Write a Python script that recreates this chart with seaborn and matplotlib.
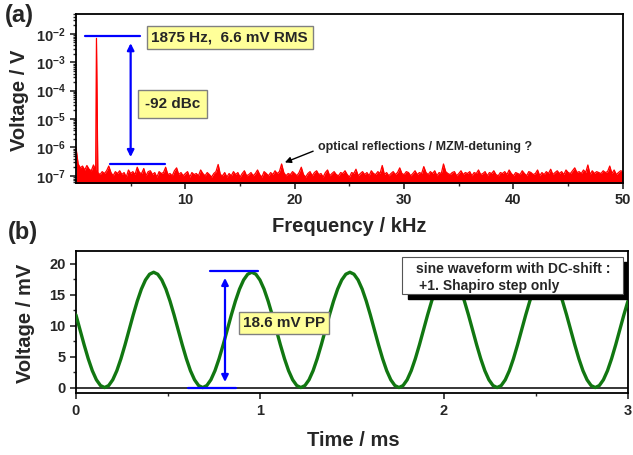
import numpy as np
import pandas as pd
import matplotlib
matplotlib.use("Agg")
import matplotlib.pyplot as plt
from matplotlib.ticker import FixedLocator, FuncFormatter, LogLocator, NullFormatter
from matplotlib.patches import Rectangle
import seaborn as sns

# ---------------- data ----------------
# (a) spectrum: noise floor on a 0.2 kHz grid, in units of 1e-7 V
freq_step_khz = 0.2
noise_1e7 = [
    10.0, 2.6, 1.9, 2.2, 1.6, 2.3, 1.7, 1.5, 2.4, 1.6,
    1.3, 1.1, 1.4, 1.2, 1.5, 2.2, 1.3, 1.0, 1.4, 1.2,
    1.5, 1.1, 1.3, 0.9, 1.6, 1.2, 1.4, 1.1, 2.0, 1.3,
    1.2, 1.8, 1.0, 1.4, 1.5, 1.1, 1.3, 0.9, 1.4, 1.2,
    1.3, 2.0, 1.1, 1.2, 1.0, 1.5, 1.9, 1.1, 1.3, 1.0,
    1.2, 1.4, 0.9, 1.3, 1.1, 1.2, 1.0, 1.6, 1.2, 1.0,
    1.3, 1.1, 0.9, 1.2, 1.4, 2.5, 1.1, 1.0, 1.3, 0.9,
    1.2, 1.0, 1.4, 1.1, 1.3, 0.9, 1.2, 1.5, 1.0, 1.1,
    1.3, 1.0, 1.2, 1.6, 1.1, 0.9, 1.4, 1.2, 1.0, 1.3,
    1.1, 1.5, 1.2, 1.4, 2.6, 1.3, 1.0, 1.2, 1.1, 1.4,
    1.2, 1.0, 1.3, 2.0, 1.1, 0.9, 1.2, 1.4, 1.0, 1.3,
    1.5, 1.1, 1.2, 0.9, 1.3, 1.6, 1.0, 1.2, 1.4, 1.1,
    1.0, 1.3, 1.2, 1.5, 1.1, 0.9, 1.3, 1.2, 1.7, 1.0,
    1.2, 1.4, 1.1, 1.3, 1.0, 1.5, 1.2, 1.1, 1.4, 1.2,
    2.3, 1.1, 1.3, 1.0, 1.2, 1.4, 1.1, 1.3, 1.9, 1.2,
    1.1, 1.4, 1.3, 1.0, 1.2, 1.5, 1.1, 1.3, 1.2, 2.1,
    1.3, 1.1, 1.4, 1.2, 1.5, 1.0, 1.3, 1.2, 2.6, 1.4,
    1.2, 1.1, 1.3, 1.4, 1.0, 1.2, 1.5, 1.1, 1.3, 1.2,
    1.4, 1.0, 1.3, 1.2, 1.6, 1.1, 1.2, 1.4, 1.0, 1.3,
    1.2, 1.5, 1.1, 1.0, 1.3, 1.2, 1.4, 1.1, 1.6, 1.2,
    1.0, 1.3, 1.2, 1.1, 1.5, 1.2, 1.0, 1.4, 1.3, 1.1,
    1.2, 1.6, 1.0, 1.3, 1.1, 1.4, 1.2, 1.7, 1.1, 1.3,
    1.5, 1.2, 1.4, 1.1, 1.6, 1.3, 1.2, 1.5, 1.9, 1.3,
    1.4, 1.2, 1.6, 1.3, 2.4, 1.1, 1.5, 1.2, 1.4, 1.3,
    1.2, 1.5, 1.3, 1.4, 2.2, 1.2, 1.6, 1.1, 1.3, 1.5,
    1.4,
]
peak_freq_khz = [1.875]
peak_volt = [7.0e-3]

# (b) waveform: samples every 1/45 ms (0 .. 3 ms), in mV
wave_step_ms = 1.0 / 45.0
wave_mv = [
    11.71, 9.30, 6.89, 4.65, 2.72, 1.25, 0.32,
    0.00, 0.32, 1.25, 2.72, 4.65, 6.89, 9.30, 11.71, 13.95, 15.88, 17.35, 18.28,
    18.60, 18.28, 17.35, 15.88, 13.95, 11.71, 9.30, 6.89, 4.65, 2.72, 1.25, 0.32,
    0.00, 0.32, 1.25, 2.72, 4.65, 6.89, 9.30, 11.71, 13.95, 15.88, 17.35, 18.28,
    18.60, 18.28, 17.35, 15.88, 13.95, 11.71, 9.30, 6.89, 4.65, 2.72, 1.25, 0.32,
    0.00, 0.32, 1.25, 2.72, 4.65, 6.89, 9.30, 11.71, 13.95, 15.88, 17.35, 18.28,
    18.60, 18.28, 17.35, 15.88, 13.95, 11.71, 9.30, 6.89, 4.65, 2.72, 1.25, 0.32,
    0.00, 0.32, 1.25, 2.72, 4.65, 6.89, 9.30, 11.71, 13.95, 15.88, 17.35, 18.28,
    18.60, 18.28, 17.35, 15.88, 13.95, 11.71, 9.30, 6.89, 4.65, 2.72, 1.25, 0.32,
    0.00, 0.32, 1.25, 2.72, 4.65, 6.89, 9.30, 11.71, 13.95, 15.88, 17.35, 18.28,
    18.60, 18.28, 17.35, 15.88, 13.95, 11.71, 9.30, 6.89, 4.65, 2.72, 1.25, 0.32,
    0.00, 0.32, 1.25, 2.72, 4.65, 6.89, 9.30, 11.71, 13.95,
]

# annotation levels
carrier_level_v = 8.3e-3
floor_level_v = 2.6e-7
pp_top_mv = 18.8
pp_bot_mv = 0.0

x_ticks_a = [10, 20, 30, 40, 50]
x_ticks_b = [0, 1, 2, 3]
y_ticks_b = [0, 5, 10, 15, 20]

# ---------------- style ----------------
sns.set_style("ticks")
plt.rcParams["font.family"] = ["Liberation Sans", "DejaVu Sans"]
plt.rcParams["font.weight"] = "bold"
plt.rcParams["axes.labelweight"] = "bold"
plt.rcParams["mathtext.fontset"] = "custom"
plt.rcParams["mathtext.rm"] = "Liberation Sans:bold"
plt.rcParams["mathtext.bf"] = "Liberation Sans:bold"
plt.rcParams["mathtext.it"] = "Liberation Sans:bold"
plt.rcParams["axes.linewidth"] = 1.3
plt.rcParams["axes.edgecolor"] = "black"

fig = plt.figure(figsize=(6.33, 4.55), dpi=100)
axa = fig.add_axes([0.120, 0.598, 0.864, 0.371])
axb = fig.add_axes([0.120, 0.136, 0.872, 0.312])

# ---------------- panel (a) ----------------
noise_freq = np.arange(len(noise_1e7)) * freq_step_khz
df_noise = pd.DataFrame({"freq": noise_freq, "volt": np.array(noise_1e7) * 1e-7})
df_peak = pd.DataFrame({"freq": peak_freq_khz, "volt": peak_volt})
df_a = pd.concat([df_noise, df_peak]).sort_values("freq").reset_index(drop=True)

axa.set_yscale("log")
axa.fill_between(df_a["freq"], df_a["volt"], 1e-9, color="#ff0000", lw=0)
sns.lineplot(data=df_a, x="freq", y="volt", ax=axa, color="#ff0000", lw=0.9,
             estimator=None, sort=False)
axa.set_xlim(0, 50)
axa.set_ylim(5.6e-8, 5e-2)

axa.xaxis.set_major_locator(FixedLocator(x_ticks_a))
axa.xaxis.set_minor_locator(FixedLocator([5, 15, 25, 35, 45]))
axa.yaxis.set_major_locator(LogLocator(base=10, numticks=20))
axa.yaxis.set_minor_locator(LogLocator(base=10, subs=np.arange(2, 10), numticks=20))
axa.yaxis.set_minor_formatter(NullFormatter())
axa.yaxis.set_major_formatter(FuncFormatter(
    lambda v, p: r"$\mathbf{10^{%d}}$" % int(round(np.log10(v)))))

axa.set_xlabel("Frequency / kHz", fontsize=14.5, fontweight="bold", va="center")
axa.xaxis.set_label_coords(0.5, -0.26)
axa.set_ylabel("Voltage / V", fontsize=14.5, fontweight="bold", va="center")
axa.yaxis.set_label_coords(-0.103, 0.49)

# annotations (a)
axa.plot([0.87, 5.9], [carrier_level_v] * 2, color="#0000ff", lw=1.6)
axa.plot([3.1, 8.1], [floor_level_v] * 2, color="#0000ff", lw=1.6)
axa.annotate("", xy=(5.0, floor_level_v), xytext=(5.0, carrier_level_v),
             arrowprops=dict(arrowstyle="<|-|>", color="#0000ff", lw=1.6,
                             mutation_scale=10, shrinkA=5, shrinkB=5))
box = dict(boxstyle="square,pad=0.3", fc="#ffff99", ec="#808080", lw=1.0)
axa.text(0.281, 0.861, "1875 Hz,  6.6 mV RMS", transform=axa.transAxes,
         ha="center", va="center", fontsize=11, fontweight="bold", bbox=box)
axa.text(0.177, 0.467, "-92 dBc", transform=axa.transAxes,
         ha="center", va="center", fontsize=11, fontweight="bold",
         bbox=dict(boxstyle="square,pad=0.45", fc="#ffff99", ec="#808080", lw=1.0))
axa.annotate("optical reflections / MZM-detuning ?", xy=(19.1, 2.95e-7),
             xytext=(0.442, 0.213), textcoords="axes fraction",
             ha="left", va="center", fontsize=9, fontweight="bold",
             arrowprops=dict(arrowstyle="-|>", color="black", lw=1.0,
                             mutation_scale=9, shrinkA=1, shrinkB=0,
                             relpos=(0, 0.3)))

# ---------------- panel (b) ----------------
t_ms = np.arange(len(wave_mv)) * wave_step_ms
df_b = pd.DataFrame({"t": t_ms, "v": wave_mv})
axb.axhline(0, color="black", lw=1.1, zorder=1)
sns.lineplot(data=df_b, x="t", y="v", ax=axb, color="#117711", lw=2.4,
             estimator=None, sort=False, zorder=3)
axb.set_xlim(0, 3)
axb.set_ylim(-0.9, 22)
axb.xaxis.set_major_locator(FixedLocator(x_ticks_b))
axb.xaxis.set_minor_locator(FixedLocator([0.5, 1.5, 2.5]))
axb.yaxis.set_major_locator(FixedLocator(y_ticks_b))
axb.yaxis.set_minor_locator(FixedLocator([2.5, 7.5, 12.5, 17.5]))

axb.set_xlabel("Time / ms", fontsize=14.5, fontweight="bold", va="center")
axb.xaxis.set_label_coords(0.502, -0.331)
axb.set_ylabel("Voltage / mV", fontsize=14.5, fontweight="bold", va="center")
axb.yaxis.set_label_coords(-0.092, 0.493)

axb.plot([0.73, 0.99], [pp_top_mv] * 2, color="#0000ff", lw=1.6, zorder=4)
axb.plot([0.61, 0.87], [pp_bot_mv] * 2, color="#0000ff", lw=1.6, zorder=4)
axb.annotate("", xy=(0.81, pp_bot_mv), xytext=(0.81, pp_top_mv),
             arrowprops=dict(arrowstyle="<|-|>", color="#0000ff", lw=1.6,
                             mutation_scale=10, shrinkA=5, shrinkB=4), zorder=4)
axb.text(0.377, 0.493, "18.6 mV PP", transform=axb.transAxes,
         ha="center", va="center", fontsize=11, fontweight="bold", zorder=5,
         bbox=dict(boxstyle="square,pad=0.25", fc="#ffff99", ec="#808080", lw=1.0))

# legend-like box with shadow
bx0, bx1, by0, by1 = 0.591, 0.991, 0.697, 0.958
sh_dx, sh_dy = 0.011, -0.035
axb.add_patch(Rectangle((bx0 + sh_dx, by0 + sh_dy), bx1 - bx0, by1 - by0,
                        transform=axb.transAxes, fc="black", ec="black",
                        zorder=6, clip_on=True))
axb.add_patch(Rectangle((bx0, by0), bx1 - bx0, by1 - by0,
                        transform=axb.transAxes, fc="white", ec="#555555",
                        lw=0.8, zorder=7))
axb.text(0.616, 0.873, "sine waveform with DC-shift :", transform=axb.transAxes,
         ha="left", va="center", fontsize=10, fontweight="bold", zorder=8)
axb.text(0.622, 0.755, "+1. Shapiro step only", transform=axb.transAxes,
         ha="left", va="center", fontsize=10, fontweight="bold", zorder=8)

for ax in (axa, axb):
    ax.tick_params(axis="both", which="major", direction="out", length=4.5,
                   width=1.2, labelsize=10.5, pad=3, top=False, right=False)
    ax.tick_params(axis="both", which="minor", direction="out", length=2.5,
                   width=1.0, top=False, right=False)
    for lab in ax.get_xticklabels() + ax.get_yticklabels():
        lab.set_fontweight("bold")
    for s in ax.spines.values():
        s.set_visible(True)
        s.set_linewidth(1.3)

fig.text(0.030, 0.965, "(a)", fontsize=17, fontweight="bold", ha="center", va="center")
fig.text(0.036, 0.490, "(b)", fontsize=17, fontweight="bold", ha="center", va="center")

fig.savefig("out.png", dpi=100)
